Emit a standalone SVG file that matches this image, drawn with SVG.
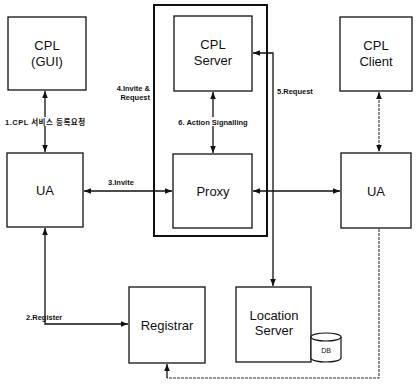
<svg xmlns="http://www.w3.org/2000/svg" width="417" height="384" viewBox="0 0 417 384">
<style>
.box{fill:#fff;stroke:#111;stroke-width:1.3}
.lbl{font-family:"Liberation Sans",Arial,sans-serif;font-size:13px;fill:#111;text-anchor:middle}
.sm{font-family:"Liberation Sans","Noto Sans CJK KR",Arial,sans-serif;font-size:7.5px;font-weight:bold;fill:#111}
.ln{fill:none;stroke:#111;stroke-width:1.3}
.dl{fill:none;stroke:#333;stroke-width:1.1;stroke-dasharray:3 1}
</style>
<defs>
<marker id="ah" viewBox="0 0 10 10" refX="10" refY="5" markerWidth="7" markerHeight="7" orient="auto-start-reverse" markerUnits="userSpaceOnUse">
<path d="M0,1 L10,5 L0,9 z" fill="#111"/>
</marker>
</defs>
<rect x="0" y="0" width="417" height="384" fill="#fff"/>
<g id="frame"><rect x="154" y="5" width="113" height="231" fill="none" stroke="#111" stroke-width="2"/></g>
<g id="cpl-gui"><rect class="box" x="8" y="17" width="78" height="73"/><text class="lbl" x="47" y="50">CPL</text><text class="lbl" x="47" y="66">(GUI)</text></g>
<g id="ua-left"><rect class="box" x="7" y="153" width="76" height="74"/><text class="lbl" x="45" y="195">UA</text></g>
<g id="cpl-server"><rect class="box" x="174" y="16" width="78" height="75"/><text class="lbl" x="213" y="49">CPL</text><text class="lbl" x="213" y="65">Server</text></g>
<g id="proxy"><rect class="box" x="173" y="154" width="79" height="74"/><text class="lbl" x="213" y="196">Proxy</text></g>
<g id="cpl-client"><rect class="box" x="340" y="17" width="72" height="74"/><text class="lbl" x="376" y="50">CPL</text><text class="lbl" x="376" y="66">Client</text></g>
<g id="ua-right"><rect class="box" x="341" y="153" width="70" height="75"/><text class="lbl" x="376" y="196">UA</text></g>
<g id="registrar"><rect class="box" x="129" y="287" width="76" height="76"/><text class="lbl" x="167" y="330">Registrar</text></g>
<g id="location-server"><rect class="box" x="236" y="287" width="75" height="75"/><text class="lbl" x="274" y="320">Location</text><text class="lbl" x="274" y="335">Server</text></g>
<g id="db"><path d="M311,337 L311,358 A15,4 0 0 0 341,358 L341,337" fill="#fff" stroke="#111" stroke-width="1.2"/><ellipse cx="326" cy="337" rx="15" ry="4" fill="#fff" stroke="#111" stroke-width="1.2"/><text x="326" y="353" font-family="Liberation Sans,Arial,sans-serif" font-size="7px" fill="#111" text-anchor="middle">DB</text></g>
<g id="connectors">
<line class="ln" x1="45" y1="91" x2="45" y2="152" marker-start="url(#ah)" marker-end="url(#ah)"/>
<rect x="4" y="117" width="90" height="9" fill="#fff"/>
<line class="ln" x1="213" y1="92" x2="213" y2="153" marker-start="url(#ah)" marker-end="url(#ah)"/>
<rect x="174" y="117" width="78" height="9" fill="#fff"/>
<line class="ln" x1="84" y1="191" x2="172" y2="191" marker-start="url(#ah)" marker-end="url(#ah)"/>
<line class="ln" x1="253" y1="191" x2="340" y2="191" marker-start="url(#ah)" marker-end="url(#ah)"/>
<line class="dl" x1="379" y1="92" x2="379" y2="152" marker-start="url(#ah)" marker-end="url(#ah)"/>
<polyline class="ln" points="273,286 273,53 253,53" marker-start="url(#ah)" marker-end="url(#ah)"/>
<polyline class="ln" points="45,228 45,324 128,324" marker-start="url(#ah)" marker-end="url(#ah)"/>
<polyline class="dl" points="379,229 379,378 167,378"/>
<line class="ln" x1="167" y1="378" x2="167" y2="364" marker-end="url(#ah)"/>
<text class="sm" x="5" y="125" letter-spacing="0.5">1.CPL 서비스 등록요청</text>
<text class="sm" x="150" y="91" text-anchor="end">4.Invite &amp;</text>
<text class="sm" x="150" y="100" text-anchor="end">Request</text>
<text class="sm" x="213" y="125" text-anchor="middle">6. Action Signalling</text>
<text class="sm" x="108" y="185">3.Invite</text>
<text class="sm" x="277" y="94">5.Request</text>
<text class="sm" x="26" y="320">2.Register</text>
</g>
</svg>
